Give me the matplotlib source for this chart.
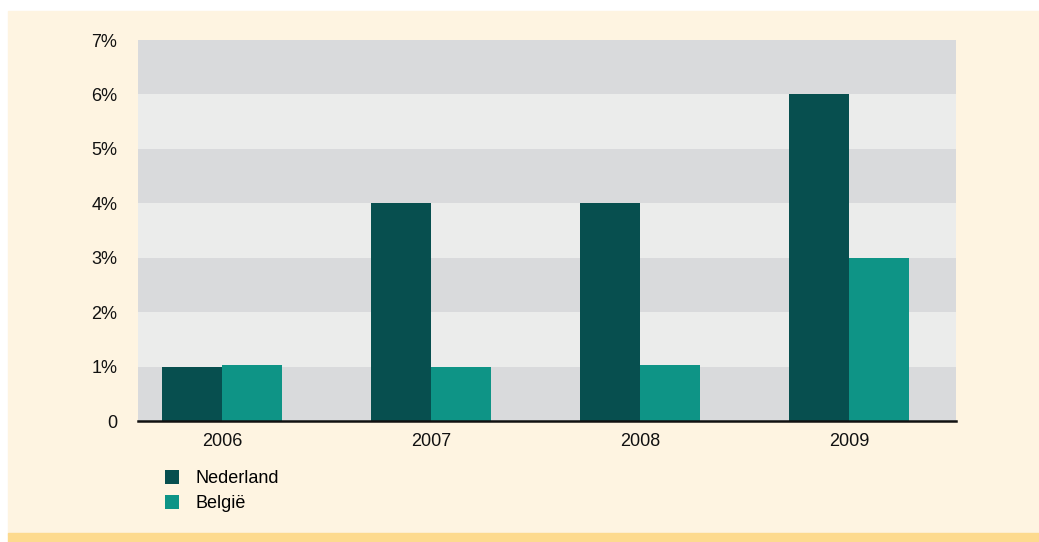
import numpy as np
import matplotlib.pyplot as plt
from matplotlib.patches import Rectangle

plt.rcParams['font.family'] = ['Liberation Sans', 'DejaVu Sans']

years = ['2006', '2007', '2008', '2009']
nederland = [1.0, 4.0, 4.0, 6.0]
belgie = [1.02, 1.0, 1.02, 3.0]
y_ticks = [0, 1, 2, 3, 4, 5, 6, 7]
y_labels = ['0', '1%', '2%', '3%', '4%', '5%', '6%', '7%']

c_nl = '#074F4F'
c_be = '#0E9486'
band_dark = '#D9DADC'
band_light = '#EBECEB'
cream = '#FEF4E1'

W, H = 1039, 542
fig = plt.figure(figsize=(W / 100, H / 100), dpi=100)
fig.patch.set_facecolor('white')

# cream panel with yellow strip at the bottom
fig.patches.append(Rectangle((8 / W, 7 / H), (W - 8) / W, (H - 18) / H,
                             transform=fig.transFigure, color=cream, zorder=-2))
fig.patches.append(Rectangle((8 / W, 0), (W - 8) / W, 9 / H,
                             transform=fig.transFigure, color='#FDDA8E', zorder=-1))

ax = fig.add_axes([138 / W, 1 - 421 / H, (956 - 138) / W, (421 - 40) / H])
ax.set_facecolor(band_light)

x = np.arange(len(years))
w = 0.287
ax.set_xlim(-0.402, 3.512)
ax.set_ylim(0, 7)

# alternating horizontal bands
for i in range(7):
    ax.axhspan(i, i + 1, color=band_dark if i % 2 == 0 else band_light, zorder=0, lw=0)

ax.bar(x - w / 2, nederland, w, color=c_nl, label='Nederland', zorder=2)
ax.bar(x + w / 2, belgie, w, color=c_be, label='België', zorder=2)

for s in ['top', 'right', 'left']:
    ax.spines[s].set_visible(False)
ax.spines['bottom'].set_linewidth(1.8)
ax.spines['bottom'].set_color('#111111')
ax.spines['bottom'].set_zorder(3)

ax.set_xticks(x)
ax.set_xticklabels(years)
ax.set_yticks(y_ticks)
ax.set_yticklabels(y_labels)
ax.tick_params(axis='both', length=0, labelsize=13, colors='#111111')
ax.tick_params(axis='y', pad=15)
ax.tick_params(axis='x', pad=9)

leg = fig.legend(loc='upper left', bbox_to_anchor=(158 / W, 1 - 463 / H),
                 frameon=False, fontsize=13, handlelength=0.75, handleheight=0.75,
                 handletextpad=0.9, labelspacing=0.45, borderaxespad=0)

fig.savefig('out.png', dpi=100, facecolor=fig.get_facecolor())
